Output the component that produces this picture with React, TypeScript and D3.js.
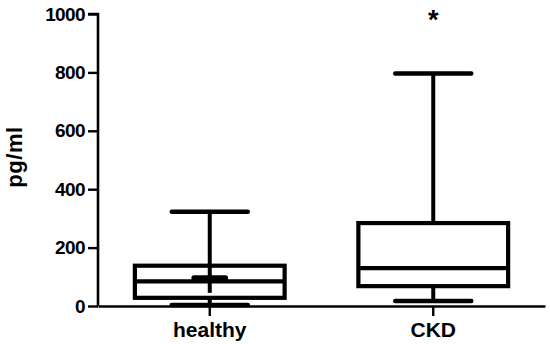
import { useRef, useEffect } from "react";
import * as d3 from "d3";

const groups = ["healthy", "CKD"];
const minVals = [3, 17];
const q1Vals = [28, 68];
const medianVals = [84, 130];
const q3Vals = [138, 284];
const maxVals = [323, 796];
const meanVals = [96, null];
const yTicks = [0, 200, 400, 600, 800, 1000];
const sigMarks = ["", "*"];

export default function App() {
  const ref = useRef<SVGSVGElement>(null);

  useEffect(() => {
    if (!ref.current) return;
    const svg = d3.select(ref.current);
    svg.selectAll("*").remove();

    const W = 550,
      H = 344;
    const font = "'Liberation Sans', Arial, Helvetica, sans-serif";
    svg.attr("width", W).attr("height", H).attr("viewBox", `0 0 ${W} ${H}`);

    const y = d3.scaleLinear().domain([0, 1000]).range([306, 14]);
    const x = d3.scaleBand().domain(groups).range([98, 545]);
    const bw = x.bandwidth();
    const boxW = bw * 0.67;
    const capW = bw * 0.34;
    const cx = (i: number) => (x(groups[i]) as number) + bw / 2;

    // y axis
    const yAxis = svg
      .append("g")
      .attr("transform", `translate(98,0)`)
      .call(
        d3
          .axisLeft(y)
          .tickValues(yTicks)
          .tickFormat(d3.format("d"))
          .tickSize(10)
          .tickPadding(3)
      );
    yAxis.select(".domain").attr("stroke-width", 2.6).attr("d", `M-10,${y(1000)}H0V${y(0)}`);
    yAxis.selectAll(".tick line").attr("stroke-width", 2.4);
    yAxis
      .selectAll(".tick text")
      .attr("font-family", font)
      .attr("font-weight", 700)
      .attr("font-size", 19)
      .attr("letter-spacing", -0.6)
      .attr("fill", "#000");

    // x axis
    const xAxis = svg
      .append("g")
      .attr("transform", `translate(0,${y(0)})`)
      .call(d3.axisBottom(x).tickSize(10).tickPadding(6).tickSizeOuter(0));
    xAxis.select(".domain").attr("stroke-width", 2.4);
    xAxis.selectAll(".tick line").attr("stroke-width", 2.4);
    xAxis
      .selectAll(".tick text")
      .attr("font-family", font)
      .attr("font-weight", 700)
      .attr("font-size", 21)
      .attr("fill", "#000");

    // y label
    svg
      .append("text")
      .attr("transform", `translate(22,${157}) rotate(-90)`)
      .attr("text-anchor", "middle")
      .attr("font-family", font)
      .attr("font-weight", 700)
      .attr("font-size", 22)
      .attr("letter-spacing", 0.6)
      .text("pg/ml");

    const g = svg.append("g").attr("fill", "none").attr("stroke", "#000");

    groups.forEach((_, i) => {
      const c = cx(i);
      // whiskers
      g.append("line")
        .attr("x1", c)
        .attr("x2", c)
        .attr("y1", y(maxVals[i]))
        .attr("y2", y(q3Vals[i]))
        .attr("stroke-width", 4);
      g.append("line")
        .attr("x1", c)
        .attr("x2", c)
        .attr("y1", y(q1Vals[i]))
        .attr("y2", y(minVals[i]))
        .attr("stroke-width", 4);
      [maxVals[i], minVals[i]].forEach((v) => {
        g.append("line")
          .attr("x1", c - capW / 2)
          .attr("x2", c + capW / 2)
          .attr("y1", y(v))
          .attr("y2", y(v))
          .attr("stroke-width", 4.5)
          .attr("stroke-linecap", "round");
      });
      // box
      g.append("rect")
        .attr("x", c - boxW / 2)
        .attr("y", y(q3Vals[i]))
        .attr("width", boxW)
        .attr("height", y(q1Vals[i]) - y(q3Vals[i]))
        .attr("stroke-width", 4.2);
      g.append("line")
        .attr("x1", c - boxW / 2)
        .attr("x2", c + boxW / 2)
        .attr("y1", y(medianVals[i]))
        .attr("y2", y(medianVals[i]))
        .attr("stroke-width", 4.2);
      const m = meanVals[i];
      if (m != null) {
        g.append("line")
          .attr("x1", c)
          .attr("x2", c)
          .attr("y1", y(q3Vals[i]))
          .attr("y2", y(q1Vals[i]) - 5)
          .attr("stroke-width", 4);
        g.append("line")
          .attr("x1", c - bw * 0.07)
          .attr("x2", c + bw * 0.07)
          .attr("y1", y(m))
          .attr("y2", y(m))
          .attr("stroke-width", 5.5)
          .attr("stroke-linecap", "round");
      }
      if (sigMarks[i]) {
        svg
          .append("text")
          .attr("x", c)
          .attr("y", 29)
          .attr("text-anchor", "middle")
          .attr("font-family", font)
          .attr("font-weight", 700)
          .attr("font-size", 27)
          .text(sigMarks[i]);
      }
    });
  }, []);

  return (
    <svg
      ref={ref}
      style={{ position: "absolute", left: 0, top: 0, display: "block", background: "#fff" }}
    />
  );
}
